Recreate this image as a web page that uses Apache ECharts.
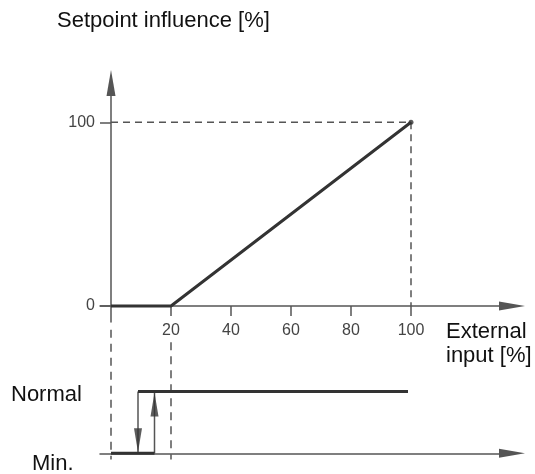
<!DOCTYPE html>
<html>
<head>
<meta charset="utf-8">
<script src="https://cdn.jsdelivr.net/npm/echarts@6/dist/echarts.min.js"></script>
<style>
html,body{margin:0;padding:0;background:#fff;}
#chart{width:535px;height:474px;}
</style>
</head>
<body>
<div id="chart"></div>
<script>
// ---- data ----
const xTicks = [20, 40, 60, 80, 100];
const yTicks = [0, 100];
const inputX = [0, 20, 100];
const influenceY = [0, 0, 100];
const guideY100 = [[0, 100], [100, 100], [100, 0]];
const guideX = [0, 20];
const guideTop = [2.0, 1.8];
const normalSpan = [9, 99];
const minSpan = [0, 14.5];
const switchDown = 9;
const switchUp = 14.5;
const levelNormal = 1;
const levelMin = 0;

const FONT = '"Liberation Sans", Arial, Helvetica, sans-serif';
const AXIS = '#555';
const INK = '#333';

const chart = echarts.init(document.getElementById('chart'), null, {renderer: 'canvas'});

const influenceData = inputX.map((x, i) => [x, influenceY[i]]);

const dashedUp = {color: AXIS, width: 1.5, type: [7, 5]};
const dashedLow = {color: AXIS, width: 1.5, type: [8, 6]};
const arrowLine = {show: true, onZero: true, symbol: ['none', 'triangle'], symbolSize: [9, 26],
  lineStyle: {color: AXIS, width: 1.5}};

const option = {
  animation: false,
  backgroundColor: '#fff',
  grid: [
    {left: 100, right: 23, top: 83, height: 239},
    {left: 100, right: 23, top: 317.5, height: 142}
  ],
  xAxis: [
    {
      gridIndex: 0, type: 'value', min: -11 / 3, max: 401 / 3,
      axisLine: arrowLine,
      axisTick: {show: true, customValues: xTicks, length: 10, lineStyle: {color: AXIS, width: 1.5}},
      axisLabel: {show: true, customValues: xTicks, margin: 1, fontSize: 16, color: '#444', fontFamily: FONT},
      splitLine: {show: false}
    },
    {
      gridIndex: 1, type: 'value', min: -11 / 3, max: 401 / 3,
      axisLine: arrowLine,
      axisTick: {show: false}, axisLabel: {show: false}, splitLine: {show: false}
    }
  ],
  yAxis: [
    {
      gridIndex: 0, type: 'value', min: -8.71, max: 121.4,
      axisLine: arrowLine,
      axisTick: {show: true, customValues: yTicks, length: 11, lineStyle: {color: AXIS, width: 1.5}},
      axisLabel: {show: true, customValues: yTicks, margin: 5, fontSize: 16, color: '#444', fontFamily: FONT},
      splitLine: {show: false}
    },
    {
      gridIndex: 1, type: 'value', min: -0.1, max: 2.2, show: false,
      axisLine: {show: false, onZero: false}, splitLine: {show: false}
    }
  ],
  series: [
    {type: 'line', xAxisIndex: 0, yAxisIndex: 0, data: guideY100, symbol: 'none', lineStyle: dashedUp, z: 1},
    {type: 'line', xAxisIndex: 0, yAxisIndex: 0, data: influenceData, symbol: 'none',
      lineStyle: {color: INK, width: 3}, z: 3},
    {type: 'scatter', xAxisIndex: 0, yAxisIndex: 0, data: [influenceData[influenceData.length - 1]],
      symbol: 'circle', symbolSize: 5, itemStyle: {color: INK}, z: 4},
    ...guideX.map((x, i) => ({type: 'line', xAxisIndex: 1, yAxisIndex: 1,
      data: [[x, guideTop[i]], [x, -0.1]], symbol: 'none', lineStyle: dashedLow, z: 1})),
    {type: 'line', xAxisIndex: 1, yAxisIndex: 1, data: [[normalSpan[0], levelNormal], [normalSpan[1], levelNormal]],
      symbol: 'none', lineStyle: {color: INK, width: 3}, z: 3},
    {type: 'line', xAxisIndex: 1, yAxisIndex: 1, data: [[minSpan[0], levelMin], [minSpan[1], levelMin]],
      symbol: 'none', lineStyle: {color: INK, width: 3}, z: 3},
    {type: 'line', xAxisIndex: 1, yAxisIndex: 1, data: [[switchDown, levelNormal], [switchDown, levelMin]],
      symbol: 'none', lineStyle: {color: AXIS, width: 1.5}, z: 2},
    {type: 'line', xAxisIndex: 1, yAxisIndex: 1, data: [[switchUp, levelMin], [switchUp, levelNormal]],
      symbol: 'none', lineStyle: {color: AXIS, width: 1.5}, z: 2},
    {type: 'scatter', xAxisIndex: 1, yAxisIndex: 1, data: [[switchDown, levelMin]],
      symbol: 'triangle', symbolSize: [8, 24], symbolRotate: 180, symbolOffset: [0, -13],
      itemStyle: {color: INK}, z: 4},
    {type: 'scatter', xAxisIndex: 1, yAxisIndex: 1, data: [[switchUp, levelNormal]],
      symbol: 'triangle', symbolSize: [8, 24], symbolOffset: [0, 13],
      itemStyle: {color: INK}, z: 4}
  ],
  graphic: [
    {type: 'text', left: 57, top: 10, style: {text: 'Setpoint influence [%]', font: '22px ' + FONT, fill: '#111'}},
    {type: 'text', left: 446, top: 320, style: {text: 'External\ninput [%]', font: '22px ' + FONT, lineHeight: 24, fill: '#111'}},
    {type: 'text', left: 11, top: 384, style: {text: 'Normal', font: '22px ' + FONT, fill: '#111'}},
    {type: 'text', left: 32, top: 453, style: {text: 'Min.', font: '22px ' + FONT, fill: '#111'}}
  ]
};

chart.setOption(option);
</script>
</body>
</html>
